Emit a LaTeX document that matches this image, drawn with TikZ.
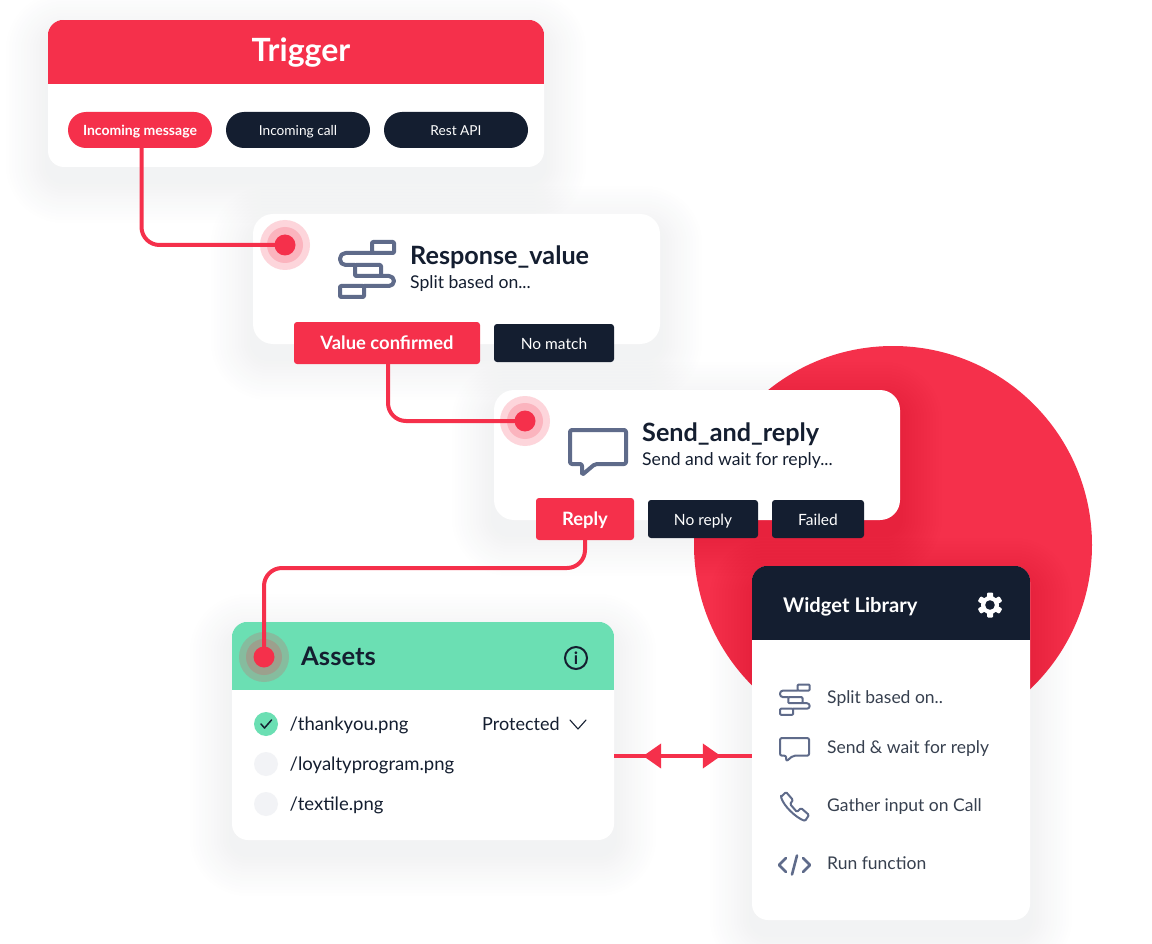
\documentclass[tikz,border=0pt]{standalone}
\usepackage{fontspec}
\setmainfont{Lato}
\usetikzlibrary{arrows.meta,positioning,decorations.markings}

\definecolor{brandred}{HTML}{F5304B}
\definecolor{navy}{HTML}{141E30}
\definecolor{mint}{HTML}{6BDFB3}
\definecolor{slate}{HTML}{5F6B8A}
\definecolor{paleball}{HTML}{F2F3F6}

\pgfdeclarelayer{disc}
\pgfdeclarelayer{shade}
\pgfsetlayers{disc,shade,main}

\newcommand{\fsize}[1]{\fontsize{#1}{#1}\selectfont}

% soft shadow under a card
\newcommand{\softshadow}[1]{%
  \begin{pgfonlayer}{shade}
    \foreach \g in {3,6,...,42}
      \fill[navy, opacity=0.003, rounded corners=16+\g]
        ([shift={(-\g,-\g+14)}]#1.north west) rectangle ([shift={(\g,\g+14)}]#1.south east);
  \end{pgfonlayer}}

% coloured top of a card, down to y
\newcommand{\cardhead}[3]{%
  \begin{scope}
    \clip[rounded corners=16] (#1.south west) rectangle (#1.north east);
    \fill[#3] (#1.north west) rectangle (#1.east |- 0,#2);
  \end{scope}}

\tikzset{
  card/.style={rectangle, fill=white, rounded corners=16, inner sep=0},
  pill/.style={rectangle, rounded corners=18, minimum width=144pt, minimum height=36pt, inner sep=0, outer sep=0,
    text height=14pt, text depth=3pt, font=\fsize{13.7}, text=white, fill=navy},
  tag/.style={rectangle, rounded corners=3, minimum height=38pt, inner sep=0, outer sep=0,
    text height=15pt, text depth=3pt, font=\fsize{15.5}, text=white, fill=navy},
  hottag/.style={tag, fill=brandred, minimum height=42pt, text height=16pt, font=\fsize{18.4}\bfseries},
  halo/.style={circle, fill=brandred, fill opacity=0.2, minimum size=50pt, inner sep=0},
  halomid/.style={halo, minimum size=36pt},
  dot/.style={circle, fill=brandred, minimum size=21pt, inner sep=0},
  link/.style={draw=brandred, line width=4pt, rounded corners=18},
  title/.style={anchor=base west, text=navy, inner sep=0, font=\fsize{25.2}\bfseries},
  subtitle/.style={anchor=base west, text=navy, inner sep=0, font=\fsize{17.6}},
  fileline/.style={anchor=base west, text=navy, inner sep=0, font=\fsize{18.5}},
  widgetline/.style={anchor=base west, text=navy!85!white, inner sep=0, font=\fsize{17.5}},
  ball/.style={circle, fill=paleball, minimum size=24pt, inner sep=0},
  iconline/.style={draw=slate, line cap=round, line join=round},
  twoway/.style={draw=brandred, line width=4pt, postaction={decorate}, decoration={markings,
    mark=at position 0.21 with {\arrowreversed[brandred]{Triangle[length=18pt,width=24pt]}},
    mark=at position 0.775 with {\arrow[brandred]{Triangle[length=18pt,width=24pt]}}}},
  spliticon/.pic={
    \draw[iconline, rounded corners=1] (32,0) rectangle (54,11);
    \draw[iconline, rounded corners=1] (15,23) rectangle (41,34);
    \draw[iconline, rounded corners=1] (0,44) rectangle (24,55);
    \draw[iconline, rounded corners=5.5*\pgfkeysvalueof{/tikz/iconscale}] (32,11) -- (0,11) -- (0,23) -- (15,23);
    \draw[iconline, rounded corners=5*\pgfkeysvalueof{/tikz/iconscale}] (41,34) -- (54,34) -- (54,44) -- (24,44);
  },
  bubbleicon/.pic={
    \draw[iconline, rounded corners=2] (0,0) -- (56,0) -- (56,34) -- (25,34) -- (12,45) -- (12,34) -- (0,34) -- cycle;
  },
  iconscale/.initial=1
}

\begin{document}
\begin{tikzpicture}[x=1pt, y=-1pt]
    \useasboundingbox (0,0) rectangle (1152,944);

    \begin{pgfonlayer}{disc}
      \node[circle, fill=brandred, minimum size=398pt, inner sep=0] (BigDisc) at (893,545) {};
    \end{pgfonlayer}

    % Trigger
    \node[card, minimum width=496pt, minimum height=147pt] (TriggerCard) at (296,93.5) {};
    \softshadow{TriggerCard}
    \cardhead{TriggerCard}{84}{brandred}
    \node[anchor=base, text=white, inner sep=0, font=\fsize{32}\bfseries] (TriggerTitle) at (301,62) {Trigger};
    \node[pill, fill=brandred, font=\fsize{14}\bfseries] (PillMessage) at (140,130) {Incoming message};
    \node[pill, right=14pt of PillMessage] (PillCall) {Incoming call};
    \node[pill, right=14pt of PillCall] (PillApi) {Rest API};

    % Response_value
    \node[card, rounded corners=20, minimum width=407pt, minimum height=130pt] (ResponseCard) at (456.5,279) {};
    \softshadow{ResponseCard}
    \pic[scale=1, line width=4pt] (ResponseIcon) at (340,242) {spliticon};
    \node[title] (ResponseTitle) at (410,265) {Response\_value};
    \node[subtitle] (ResponseSub) at (410,289) {Split based on...};
    \node[hottag, minimum width=186pt] (ValueTag) at (387,343) {Value confirmed};
    \node[tag, minimum width=120pt, right=14pt of ValueTag] (NoMatchTag) {No match};

    % Send_and_reply
    \node[card, rounded corners=20, minimum width=406pt, minimum height=130pt] (SendCard) at (697,455) {};
    \softshadow{SendCard}
    \pic[line width=4pt] (SendIcon) at (570,430) {bubbleicon};
    \node[title] (SendTitle) at (642,441) {Send\_and\_reply};
    \node[subtitle] (SendSub) at (642,465) {Send and wait for reply...};
    \node[hottag, minimum width=98pt] (ReplyTag) at (585,519) {Reply};
    \node[tag, minimum width=110pt, right=14pt of ReplyTag] (NoReplyTag) {No reply};
    \node[tag, minimum width=92pt, right=14pt of NoReplyTag] (FailedTag) {Failed};

    % Assets
    \node[card, minimum width=382pt, minimum height=218pt] (AssetsCard) at (423,731) {};
    \softshadow{AssetsCard}
    \cardhead{AssetsCard}{690}{mint}
    \node[title, font=\fsize{25.6}\bfseries] (AssetsTitle) at (301,665) {Assets};
    \node[circle, draw=navy, line width=2pt, minimum size=22pt, inner sep=0, text=navy, font=\fsize{17}\bfseries] (InfoMark) at (576,658) {i};
    \node[ball, fill=mint] (ThankyouBall) at (266,724) {};
    \draw[navy, line width=1.5pt, line cap=round, line join=round] ([shift={(-5,0)}]ThankyouBall.center) -- ([shift={(-1.5,4)}]ThankyouBall.center) -- ([shift={(5.5,-4)}]ThankyouBall.center);
    \node[fileline] (ThankyouFile) at (289.5,730.5) {/thankyou.png};
    \node[fileline, font=\fsize{18}] (ProtectedText) at (482,730.5) {Protected};
    \coordinate (ChevronStart) at (570,720);
    \draw[navy, line width=1.1pt, line cap=round, line join=round] (ChevronStart) -- ++(8,9) -- ++(8,-9);
    \node[ball] (LoyaltyBall) at (266,764) {};
    \node[fileline] (LoyaltyFile) at (289.5,770.5) {/loyaltyprogram.png};
    \node[ball] (TextileBall) at (266,804) {};
    \node[fileline] (TextileFile) at (289.5,810.5) {/textile.png};

    % Widget Library
    \node[card, minimum width=278pt, minimum height=354pt] (WidgetCard) at (891,743) {};
    \softshadow{WidgetCard}
    \cardhead{WidgetCard}{640}{navy}
    \node[anchor=base west, text=white, inner sep=0, font=\fsize{20.2}\bfseries] (WidgetTitle) at (783,612.5) {Widget Library};
    \node[circle, fill=white, minimum size=18pt, inner sep=0] (GearBody) at (990,605) {};
    \foreach \a in {0,60,...,300}
      \fill[white, rounded corners=1, rotate around={\a:(GearBody.center)}] ([shift={(-3,-12.5)}]GearBody.center) rectangle ([shift={(3,-6)}]GearBody.center);
    \fill[navy] (GearBody.center) circle (4.8);

    \pic[scale=0.55, iconscale=0.55, line width=2pt] (SplitMini) at (780,684.5) {spliticon};
    \node[widgetline] (SplitText) at (827,703) {Split based on..};
    \pic[scale=0.52, line width=2pt] (BubbleMini) at (780,738) {bubbleicon};
    \node[widgetline] (BubbleText) at (827,753) {Send \& wait for reply};
    \coordinate (PhoneMini) at (781,792);
    \draw[iconline, line width=2pt, rounded corners=1.2, shift={(PhoneMini)}] (0,5) -- (5,0) -- (12,8) -- (9,12) -- (16,20) -- (20,16) -- (28,23) -- (24,29) .. controls (14,25) and (3,14) .. (0,5) -- cycle;
    \node[widgetline] (PhoneText) at (827,811) {Gather input on Call};
    \coordinate (CodeMini) at (794.5,865);
    \draw[iconline, line width=2.6pt] ([shift={(-8.5,-7)}]CodeMini) -- ++(-7,7) -- ++(7,7);
    \draw[iconline, line width=2.6pt] ([shift={(8.5,-7)}]CodeMini) -- ++(7,7) -- ++(-7,7);
    \draw[iconline, line width=2.6pt] ([shift={(2.5,-9.5)}]CodeMini) -- ++(-5,19);
    \node[widgetline] (CodeText) at (827,869) {Run function};

    % ports and links
    \node[halo] (ResponseHalo) at (285,245) {};
    \node[halomid] (ResponseHaloMid) at (ResponseHalo.center) {};
    \node[halo] (SendHalo) at (525,421) {};
    \node[halomid] (SendHaloMid) at (SendHalo.center) {};
    \node[halo] (AssetsHalo) at (264,657) {};
    \node[halomid] (AssetsHaloMid) at (AssetsHalo.center) {};

    \draw[link] ([xshift=1.5pt]PillMessage.south) |- (ResponseHalo.center);
    \draw[link] ([xshift=1pt]ValueTag.south) |- (SendHalo.center);
    \draw[link] (ReplyTag.south) -- ++(0,28) -| (AssetsHalo.center);

    \node[dot] (ResponseDot) at (ResponseHalo.center) {};
    \node[dot] (SendDot) at (SendHalo.center) {};
    \node[dot] (AssetsDot) at (AssetsHalo.center) {};

    \coordinate (ArrowRow) at (0,756);
    \draw[twoway] (AssetsCard.east |- ArrowRow) -- (WidgetCard.west |- ArrowRow);
\end{tikzpicture}
\end{document}
